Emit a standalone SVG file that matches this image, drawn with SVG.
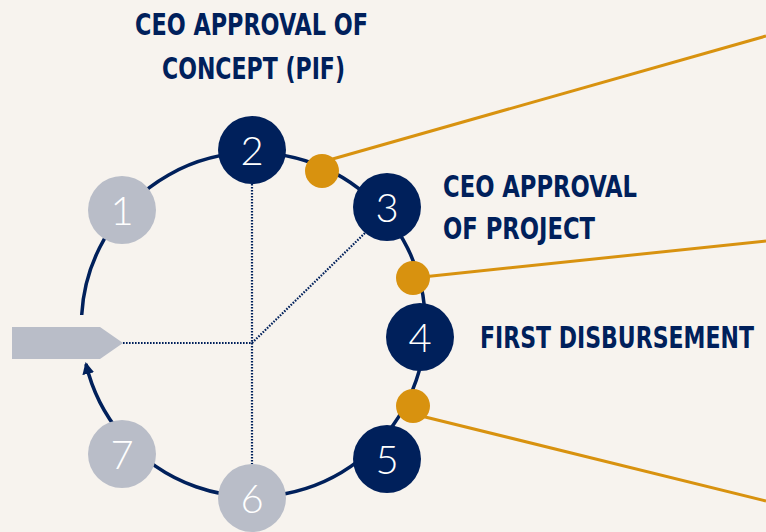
<svg xmlns="http://www.w3.org/2000/svg" width="766" height="532" viewBox="0 0 766 532">
<defs>
<style>
.bg{fill:#f7f3ee}
.ring{fill:none;stroke:#00205b;stroke-width:3.5}
.dot{fill:none;stroke:#00205b;stroke-width:2.2;stroke-dasharray:1.6 1.4}
.lead{fill:none;stroke:#d8920f;stroke-width:3}
.navy{fill:#00205b}
.gray{fill:#b9bdc8}
.gold{fill:#d8920f}
.num{font-family:"Lato","Open Sans","DejaVu Sans",sans-serif;font-weight:300;font-size:40px;fill:#ffffff;text-anchor:middle}
.lbl{font-family:"Liberation Sans Narrow","DejaVu Sans Condensed","Liberation Sans",sans-serif;font-weight:bold;font-size:30px;fill:#00205b}
</style>
<marker id="ah" markerUnits="userSpaceOnUse" markerWidth="14" markerHeight="14" viewBox="0 0 14 14" refX="10" refY="7" orient="auto">
<path d="M0,1 L12,7 L0,13 Z" fill="#00205b"/>
</marker>
</defs>
<rect class="bg" x="0" y="0" width="766" height="532"/>
<g id="connectors">
<path class="ring" d="M81.7,315 A172,172 0 1 1 86,364" marker-end="url(#ah)"/>
<line class="dot" x1="252" y1="184" x2="252" y2="464"/>
<line class="dot" x1="123" y1="343" x2="252" y2="343"/>
<line class="dot" x1="252" y1="343" x2="365" y2="233"/>
<line class="lead" x1="322" y1="162" x2="766" y2="36"/>
<line class="lead" x1="413" y1="278" x2="766" y2="241"/>
<line class="lead" x1="413" y1="414" x2="766" y2="501"/>
</g>
<g id="start"><polygon class="gray" points="12,327 100,327 123,343 100,359 12,359"/></g>
<g id="n1"><circle class="gray" cx="122" cy="210" r="34"/><text class="num" x="122" y="225">1</text></g>
<g id="n2"><circle class="navy" cx="252" cy="150" r="34"/><text class="num" x="252" y="165">2</text></g>
<g id="n3"><circle class="navy" cx="387" cy="207" r="34"/><text class="num" x="387" y="222">3</text></g>
<g id="n4"><circle class="navy" cx="420" cy="337" r="34"/><text class="num" x="420" y="352">4</text></g>
<g id="n5"><circle class="navy" cx="387" cy="459" r="34"/><text class="num" x="387" y="474">5</text></g>
<g id="n6"><circle class="gray" cx="252" cy="498" r="34"/><text class="num" x="252" y="513">6</text></g>
<g id="n7"><circle class="gray" cx="122" cy="454" r="34"/><text class="num" x="122" y="469">7</text></g>
<g id="d1"><circle class="gold" cx="322" cy="171" r="17"/></g>
<g id="d2"><circle class="gold" cx="413" cy="278" r="17"/></g>
<g id="d3"><circle class="gold" cx="413" cy="406" r="17"/></g>
<g id="label-concept">
<text class="lbl" x="135" y="35" textLength="233" lengthAdjust="spacingAndGlyphs">CEO APPROVAL OF</text>
<text class="lbl" x="162" y="79" textLength="183" lengthAdjust="spacingAndGlyphs">CONCEPT (PIF)</text>
</g>
<g id="label-project">
<text class="lbl" x="443" y="197" textLength="194" lengthAdjust="spacingAndGlyphs">CEO APPROVAL</text>
<text class="lbl" x="443" y="239" textLength="152" lengthAdjust="spacingAndGlyphs">OF PROJECT</text>
</g>
<g id="label-disb">
<text class="lbl" x="480" y="348" textLength="274" lengthAdjust="spacingAndGlyphs">FIRST DISBURSEMENT</text>
</g>
</svg>
